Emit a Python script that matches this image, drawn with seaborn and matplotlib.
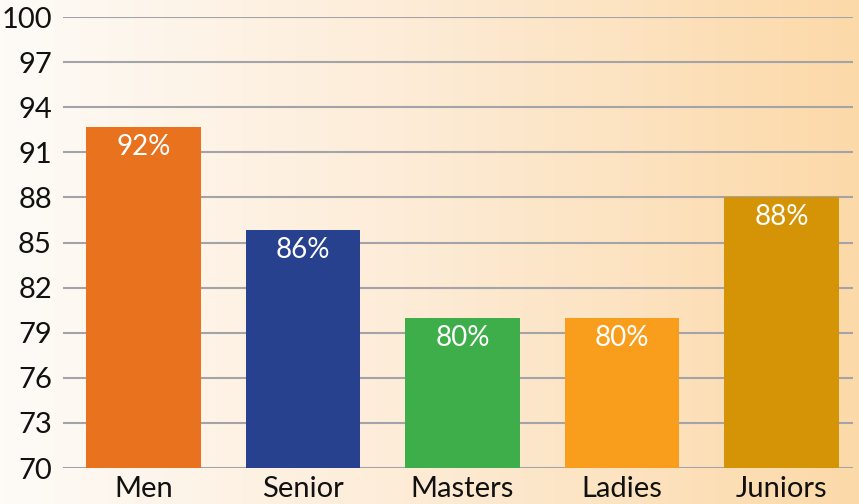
import numpy as np
import pandas as pd
import matplotlib
matplotlib.use("Agg")
import matplotlib.pyplot as plt
import seaborn as sns
from matplotlib.colors import LinearSegmentedColormap

categories = ["Men", "Senior", "Masters", "Ladies", "Juniors"]
values = [92.7, 85.8, 80.0, 80.0, 88.0]
labels = ["92%", "86%", "80%", "80%", "88%"]
colors = ["#E8721E", "#27418F", "#3EAE4A", "#F99D1C", "#D59405"]
yticks = [70, 73, 76, 79, 82, 85, 88, 91, 94, 97, 100]

sns.set_style("white")
plt.rcParams['font.family'] = ['Lato', 'DejaVu Sans']
plt.rcParams['font.weight'] = 'normal'

fig = plt.figure(figsize=(8.59, 5.04), dpi=100)

# gradient background
bg = fig.add_axes([0, 0, 1, 1], zorder=0)
cmap = LinearSegmentedColormap.from_list("bg", ["#FEFBF7", "#FDEBD5", "#FCD9A8"])
bg.imshow(np.linspace(0, 1, 256).reshape(1, -1), aspect="auto", cmap=cmap, extent=[0, 1, 0, 1])
bg.set_axis_off()

ax = fig.add_axes([63/859, 1-468/504, 790/859, 451/504], zorder=1)
ax.patch.set_alpha(0)

df = pd.DataFrame({"cat": categories, "val": values})
sns.barplot(data=df, x="cat", y="val", hue="cat", palette=colors, legend=False,
            width=0.72, saturation=1, linewidth=0, ax=ax, zorder=3)

ax.set_ylim(70, 100)
ax.set_xlim(-0.505, 4.448)
ax.set_yticks(yticks)
ax.yaxis.grid(True, color="#A3A3AA", linewidth=1.5, zorder=0)
ax.set_axisbelow(True)
for s in ax.spines.values():
    s.set_visible(False)
ax.tick_params(axis="both", length=0, labelsize=21, colors="#111111")
ax.tick_params(axis="y", pad=8)
ax.tick_params(axis="x", pad=6)
ax.set_xlabel("")
ax.set_ylabel("")

for i, (v, lab) in enumerate(zip(values, labels)):
    ax.annotate(lab, (i, v), xytext=(0, -20), textcoords="offset pixels",
                ha="center", va="center", color="white", fontsize=20, zorder=5)

fig.savefig("out.png", dpi=100)
